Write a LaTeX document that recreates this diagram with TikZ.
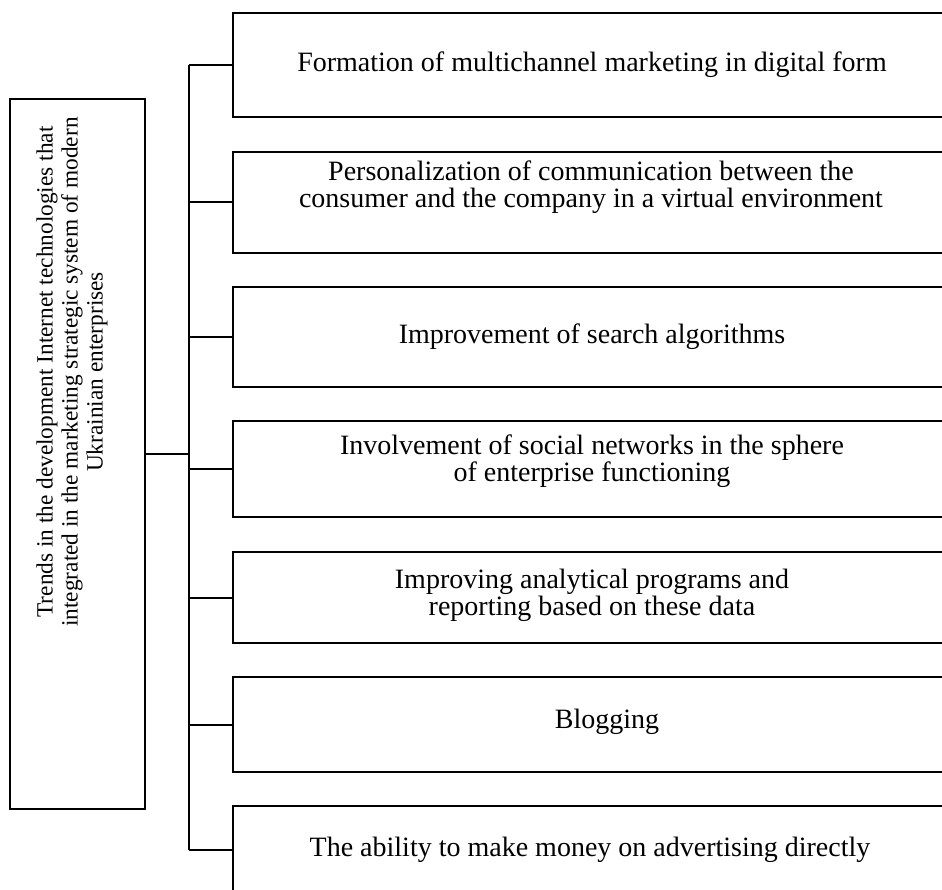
\documentclass[tikz,border=0pt]{standalone}
\usepackage{fontspec}
\setmainfont{Liberation Serif}
\begin{document}
\begin{tikzpicture}[x=1pt,y=-1pt,
  line width=2pt,
  frame/.style={draw=black, line width=2pt, rectangle, anchor=north west, inner sep=0pt, outer sep=0pt},
  item/.style={align=center, inner sep=0pt, font=\fontsize{28}{27}\selectfont},
  root/.style={align=center, inner sep=0pt, rotate=90, font=\fontsize{23.3}{25}\selectfont},
  link/.style={draw=black, line width=2pt}
]
\useasboundingbox (0,0) rectangle (942,890);
\clip (0,0) rectangle (942,890);

% main topic box on the left
\node[frame, minimum width=135pt, minimum height=710pt] (L) at (10,99) {};
\node[root] (Lt) at (72,372) {Trends in the development Internet technologies that\\
  integrated in the marketing strategic system of modern\\
  Ukrainian  enterprises};

% trend boxes on the right
\node[frame, minimum width=717pt, minimum height=104pt] (b1) at (233,13) {};
\node[frame, minimum width=717pt, minimum height=101pt] (b2) at (233,152) {};
\node[frame, minimum width=717pt, minimum height=100pt] (b3) at (233,287) {};
\node[frame, minimum width=717pt, minimum height=96pt]  (b4) at (233,421) {};
\node[frame, minimum width=717pt, minimum height=91pt]  (b5) at (233,552) {};
\node[frame, minimum width=717pt, minimum height=95pt]  (b6) at (233,677) {};
\node[frame, minimum width=717pt, minimum height=88pt]  (b7) at (233,806) {};

\node[item] (t1) at (592,65) {Formation of multichannel marketing in digital  form};
\node[item] (t2) at (591,187.5) {Personalization of communication between the\\
  consumer and the company in a virtual  environment};
\node[item] (t3) at (592,337) {Improvement of search algorithms};
\node[item] (t4) at (592,461) {Involvement of social networks in the sphere\\
  of enterprise functioning};
\node[item] (t5) at (592,595) {Improving analytical programs and\\
  reporting based on these data};
\node[item] (t6) at (607,722) {Blogging};
\node[item] (t7) at (590,850) {The ability to make money on advertising directly};

% bracket connectors
\coordinate (trunk) at (189,0);
\draw[link] (b1.west -| trunk) -- (b7.west -| trunk);
\draw[link, line width=2.6pt] (L.east) -- (L.east -| trunk);
\foreach \b in {b1,b2,b3,b4,b5,b6,b7}
  \draw[link] (\b.west -| trunk) -- (\b.west);
\end{tikzpicture}
\end{document}
